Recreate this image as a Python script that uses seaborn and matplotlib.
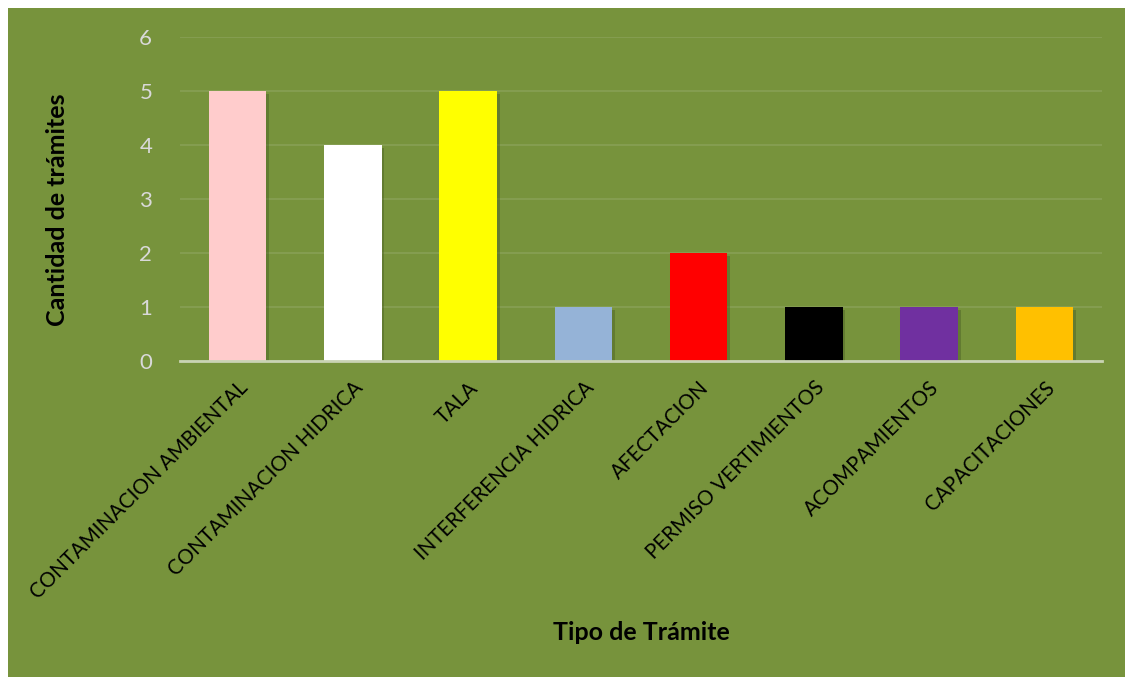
import matplotlib
matplotlib.use("Agg")
import matplotlib.pyplot as plt
import matplotlib.patheffects as pe
from matplotlib.patches import Rectangle
import pandas as pd
import seaborn as sns

categorias = ["CONTAMINACION AMBIENTAL", "CONTAMINACION HIDRICA", "TALA",
              "INTERFERENCIA HIDRICA", "AFECTACION", "PERMISO VERTIMIENTOS",
              "ACOMPAMIENTOS", "CAPACITACIONES"]
cantidad = [5, 4, 5, 1, 2, 1, 1, 1]
colores = ["#FFCCCC", "#FFFFFF", "#FFFF00", "#95B3D7", "#FF0000", "#000000",
           "#7030A0", "#FFC000"]
yticks = [0, 1, 2, 3, 4, 5, 6]

GREEN = "#77933C"

sns.set_theme(style="white")
plt.rcParams["font.family"] = ["Lato", "DejaVu Sans"]

fig = plt.figure(figsize=(11.25, 6.77), dpi=100, facecolor="white")
# green chart area (white strip on top and left like the source)
fig.patches.append(Rectangle((8 / 1125, 0), 1, 1 - 8 / 677, transform=fig.transFigure,
                             facecolor=GREEN, edgecolor="none", zorder=-10))

ax = fig.add_axes([180 / 1125, 1 - 361 / 677, 922 / 1125, 324 / 677])
ax.set_facecolor("none")

df = pd.DataFrame({"Tipo": categorias, "Cantidad": cantidad})
sns.barplot(data=df, x="Tipo", y="Cantidad", hue="Tipo", palette=colores,
            legend=False, width=0.5, saturation=1, ax=ax, zorder=3)

for bar in ax.patches:
    bar.set_edgecolor("none")
    bar.set_path_effects([pe.SimplePatchShadow(offset=(2, -2), shadow_rgbFace="#4a5e24",
                                               alpha=0.45), pe.Normal()])

ax.set_ylim(0, 6)
ax.set_xlim(-0.5, len(categorias) - 0.5)
ax.set_yticks(yticks)
ax.yaxis.grid(True, color="#87a055", linewidth=1.2, zorder=0)
ax.set_axisbelow(True)
for s in ["top", "right", "left"]:
    ax.spines[s].set_visible(False)
ax.spines["bottom"].set_color("#c9d3b4")
ax.spines["bottom"].set_linewidth(2)
ax.spines["bottom"].set_zorder(5)

ax.tick_params(axis="y", colors="#D9D9D9", labelsize=16, length=0, pad=20)
ax.tick_params(axis="x", length=0, pad=12)
ax.set_xticks(range(len(categorias)))
ax.set_xticklabels(categorias, rotation=45, ha="right", rotation_mode="anchor",
                   fontsize=14.8, color="black")

ax.set_ylabel("Cantidad de trámites", fontsize=18, fontweight="bold", color="black")
ax.yaxis.set_label_coords(-(180 - 58) / 922, (361 - 210) / 324)
ax.set_xlabel("Tipo de Trámite", fontsize=18, fontweight="bold", color="black")
ax.xaxis.set_label_coords(0.5, -(632 - 361) / 324)
ax.xaxis.label.set_va("center")
ax.yaxis.label.set_va("center")

fig.savefig("out.png", dpi=100, facecolor=fig.get_facecolor())
